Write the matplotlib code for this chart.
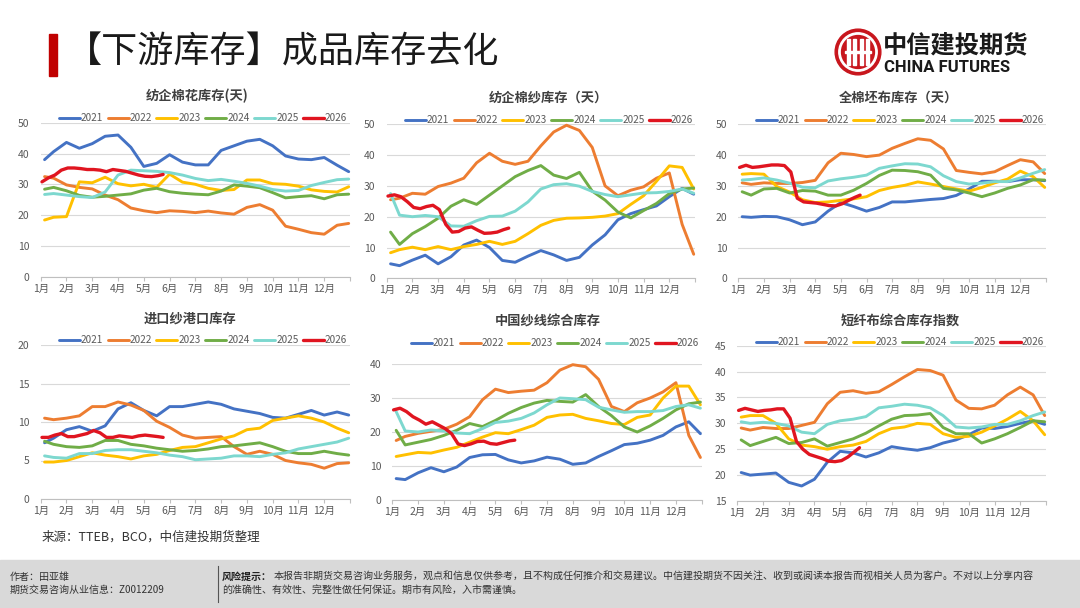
import matplotlib
matplotlib.use("Agg")
import matplotlib.pyplot as plt
from matplotlib.patches import Circle, Rectangle

plt.rcParams['font.family'] = ['Noto Sans CJK SC', 'DejaVu Sans']

W, H = 1080, 608

MONTHS = ['1月', '2月', '3月', '4月', '5月', '6月', '7月', '8月', '9月', '10月', '11月', '12月']
YEARS = ['2021', '2022', '2023', '2024', '2025', '2026']
# sample positions (month axis), half-month steps for full years, quarter-month for 2026
X = [1.15, 1.5, 2.0, 2.5, 3.0, 3.5, 4.0, 4.5, 5.0, 5.5, 6.0, 6.5, 7.0, 7.5,
     8.0, 8.5, 9.0, 9.5, 10.0, 10.5, 11.0, 11.5, 12.0, 12.5, 12.95]
X26 = [1.05, 1.3, 1.55, 1.8, 2.05, 2.3, 2.55, 2.8, 3.05, 3.3, 3.55, 3.8,
       4.05, 4.3, 4.55, 4.8, 5.05, 5.3, 5.55, 5.75]

# 纺企棉花库存(天)
c1_2021 = [38.0, 40.6, 43.6, 41.7, 43.2, 45.6, 46.0, 42.0, 35.8, 36.8, 39.6, 37.2, 36.3, 36.3, 41.0, 42.5, 44.0, 44.6, 42.5, 39.2, 38.2, 38.0, 38.7, 36.2, 34.1]
c1_2022 = [32.5, 32.0, 29.8, 29.0, 28.5, 26.5, 25.0, 22.3, 21.4, 20.8, 21.4, 21.2, 20.8, 21.3, 20.7, 20.3, 22.5, 23.4, 21.6, 16.4, 15.4, 14.3, 13.8, 16.7, 17.3]
c1_2023 = [18.4, 19.3, 19.5, 30.8, 30.5, 32.3, 30.2, 29.5, 30.0, 29.0, 33.3, 30.7, 30.0, 28.7, 28.0, 28.3, 31.4, 31.4, 30.2, 30.0, 29.4, 28.2, 27.7, 27.5, 29.2]
c1_2024 = [28.4, 29.0, 27.9, 26.4, 25.8, 26.1, 26.5, 26.9, 28.1, 28.7, 27.6, 27.1, 26.8, 26.6, 27.8, 29.8, 29.4, 28.9, 27.3, 25.6, 26.0, 26.3, 25.3, 26.6, 26.8]
c1_2025 = [26.7, 27.0, 26.5, 26.0, 25.7, 27.5, 33.0, 34.6, 34.4, 34.2, 33.8, 33.0, 31.9, 31.2, 31.6, 31.0, 30.3, 29.4, 28.3, 27.8, 28.0, 29.6, 30.6, 31.5, 31.7]
c1_2026 = [30.8, 32.1, 33.0, 34.6, 35.3, 35.3, 35.1, 34.8, 34.8, 34.6, 34.1, 34.8, 34.5, 34.2, 33.6, 33.0, 32.6, 32.5, 32.8, 33.2]

# 纺企棉纱库存（天）
y2_2021 = [4.7, 4.1, 5.9, 7.5, 4.7, 7.0, 10.8, 12.4, 10.0, 5.8, 5.2, 7.2, 9.0, 7.6, 5.8, 6.8, 10.8, 14.1, 19.0, 21.0, 22.3, 23.5, 26.5, 29.2, 27.3]
y2_2022 = [25.5, 26.0, 27.6, 27.3, 29.8, 30.9, 32.5, 37.5, 40.6, 38.0, 37.0, 38.0, 43.0, 47.5, 49.7, 48.0, 42.5, 30.0, 26.8, 28.6, 29.7, 32.5, 34.2, 17.5, 7.8]
y2_2023 = [8.3, 9.3, 10.1, 9.3, 10.3, 9.3, 10.3, 11.0, 12.0, 11.0, 12.0, 14.5, 17.2, 18.8, 19.5, 19.6, 19.8, 20.2, 21.0, 24.0, 26.8, 31.5, 36.5, 36.0, 29.0]
y2_2024 = [15.0, 11.0, 14.5, 16.8, 19.5, 23.4, 25.5, 24.0, 27.0, 30.0, 33.0, 35.0, 36.6, 33.5, 32.4, 34.4, 28.3, 25.4, 21.5, 19.6, 22.0, 24.3, 27.5, 29.0, 29.3]
y2_2025 = [27.5, 20.5, 20.0, 20.4, 20.0, 17.0, 16.9, 18.7, 20.1, 20.2, 21.8, 24.8, 29.0, 30.4, 30.7, 29.9, 28.2, 27.2, 26.5, 27.1, 27.7, 27.8, 28.2, 29.0, 27.6]
y2_2026 = [26.7, 27.1, 26.5, 24.9, 23.0, 22.6, 23.3, 23.7, 22.3, 17.5, 15.0, 15.2, 16.3, 16.7, 15.6, 14.6, 14.7, 15.0, 15.8, 16.3]

# 全棉坯布库存（天）
g3_2021 = [20.0, 19.8, 20.1, 20.0, 19.0, 17.4, 18.3, 21.8, 24.6, 23.3, 21.8, 23.0, 24.8, 24.8, 25.2, 25.6, 25.9, 26.9, 29.0, 31.5, 31.5, 31.4, 32.0, 32.0, 31.7]
g3_2022 = [31.0, 30.5, 31.0, 30.8, 30.8, 31.1, 31.8, 37.5, 40.6, 40.2, 39.5, 40.0, 42.2, 43.8, 45.3, 44.8, 42.0, 35.0, 34.4, 33.9, 34.6, 36.6, 38.5, 37.8, 34.0]
g3_2023 = [33.8, 34.0, 33.8, 29.8, 28.0, 25.5, 24.6, 24.8, 25.3, 25.8, 26.5, 28.5, 29.5, 30.2, 31.3, 30.6, 29.8, 29.0, 28.3, 29.5, 31.0, 32.2, 34.8, 33.0, 29.5]
g3_2024 = [28.1, 27.0, 29.0, 29.2, 27.7, 28.5, 28.3, 27.0, 27.0, 28.6, 30.8, 33.4, 35.1, 35.0, 34.6, 33.5, 29.2, 28.7, 27.7, 26.5, 27.7, 29.2, 30.3, 32.0, 31.9]
g3_2025 = [31.9, 32.1, 32.6, 31.9, 30.9, 29.6, 29.4, 31.6, 32.3, 32.8, 33.5, 35.7, 36.5, 37.2, 37.1, 36.2, 33.3, 31.4, 30.6, 30.9, 31.4, 31.4, 32.6, 34.1, 35.3]
g3_2026 = [36.0, 36.7, 36.0, 36.2, 36.5, 36.8, 36.8, 36.6, 34.5, 26.0, 24.8, 24.6, 24.4, 24.0, 23.6, 23.5, 24.2, 25.3, 26.3, 27.0]

# 进口纱港口库存
p4_2021 = [7.3, 7.9, 9.0, 9.4, 8.8, 9.5, 11.7, 12.5, 11.5, 10.8, 12.0, 12.0, 12.3, 12.6, 12.3, 11.7, 11.4, 11.1, 10.6, 10.5, 11.0, 11.5, 10.9, 11.3, 10.9]
p4_2022 = [10.5, 10.3, 10.5, 10.8, 12.0, 12.0, 12.6, 12.2, 11.5, 10.1, 9.3, 8.3, 7.9, 8.0, 8.1, 6.8, 5.8, 6.2, 5.8, 5.0, 4.7, 4.5, 4.0, 4.6, 4.7]
p4_2023 = [4.8, 4.8, 5.0, 5.5, 6.0, 5.7, 5.5, 5.2, 5.6, 5.8, 6.3, 6.7, 6.8, 7.3, 7.8, 8.2, 9.0, 9.2, 10.2, 10.5, 10.8, 10.5, 10.0, 9.2, 8.6]
p4_2024 = [7.5, 7.1, 6.8, 6.7, 6.9, 7.6, 7.6, 7.1, 6.9, 6.6, 6.4, 6.2, 6.3, 6.5, 6.8, 6.9, 7.1, 7.3, 6.8, 6.2, 5.9, 5.9, 6.2, 5.9, 5.7]
p4_2025 = [5.6, 5.4, 5.3, 5.9, 5.9, 6.3, 6.4, 6.4, 6.2, 6.0, 5.7, 5.5, 5.1, 5.2, 5.3, 5.6, 5.6, 5.5, 5.8, 6.0, 6.5, 6.8, 7.1, 7.4, 7.9]
p4_2026 = [8.0, 8.0, 8.3, 8.5, 8.1, 8.1, 8.3, 8.5, 8.9, 8.6, 8.0, 8.0, 8.2, 8.1, 8.0, 8.2, 8.3, 8.2, 8.1, 8.0]

# 中国纱线综合库存
p5_2021 = [6.3, 6.0, 8.0, 9.5, 8.3, 9.7, 12.5, 13.3, 13.4, 11.8, 10.9, 11.5, 12.6, 12.0, 10.5, 10.9, 12.8, 14.5, 16.3, 16.7, 17.6, 19.0, 21.5, 23.0, 19.5]
p5_2022 = [17.5, 18.7, 19.6, 20.2, 20.8, 22.3, 24.5, 29.5, 32.6, 31.6, 32.0, 32.3, 34.5, 38.2, 39.8, 39.2, 35.5, 27.5, 26.0, 28.6, 30.0, 31.8, 34.5, 19.0, 12.5]
p5_2023 = [12.8, 13.3, 14.0, 13.8, 14.7, 15.5, 17.0, 18.5, 19.8, 19.5, 20.7, 22.0, 24.3, 25.0, 25.2, 24.0, 23.3, 22.5, 22.2, 24.3, 25.0, 30.0, 33.5, 33.5, 28.0]
p5_2024 = [20.5, 16.2, 17.0, 17.8, 19.0, 20.5, 22.5, 21.6, 23.4, 25.5, 27.2, 28.5, 29.3, 29.0, 28.8, 31.0, 27.5, 24.8, 21.5, 20.0, 21.8, 24.0, 26.5, 28.3, 28.8]
p5_2025 = [26.0, 20.3, 20.0, 20.6, 20.3, 19.7, 19.5, 21.0, 22.8, 23.2, 24.0, 25.6, 28.0, 30.0, 29.8, 29.5, 27.3, 26.5, 25.8, 26.0, 26.0, 26.3, 27.5, 28.0, 27.0]
p5_2026 = [26.5, 27.0, 26.0, 24.5, 23.5, 22.3, 23.0, 22.0, 21.0, 19.5, 16.5, 16.0, 16.5, 17.2, 17.3, 16.6, 16.4, 16.9, 17.4, 17.6]

# 短纤布综合库存指数
p6_2021 = [20.5, 20.0, 20.2, 20.4, 18.6, 17.9, 19.2, 22.5, 24.6, 24.3, 23.5, 24.3, 25.5, 25.1, 24.8, 25.3, 26.2, 26.8, 27.8, 29.1, 29.0, 29.4, 30.0, 30.5, 29.8]
p6_2022 = [29.1, 28.7, 29.2, 29.0, 29.0, 29.6, 30.2, 33.8, 36.0, 36.3, 35.8, 36.1, 37.5, 39.0, 40.4, 40.2, 39.3, 34.5, 32.9, 32.8, 33.5, 35.5, 37.0, 35.5, 31.5]
p6_2023 = [31.2, 31.5, 31.5, 30.0, 27.0, 25.8, 25.5, 25.0, 25.5, 25.8, 26.5, 28.0, 29.0, 29.3, 30.0, 29.8, 28.0, 27.3, 27.5, 28.3, 29.5, 30.8, 32.3, 30.5, 27.8]
p6_2024 = [26.8, 25.7, 26.5, 27.3, 26.1, 26.3, 27.0, 25.6, 26.3, 27.0, 28.1, 29.5, 30.8, 31.5, 31.6, 31.9, 29.2, 28.0, 28.0, 26.2, 27.0, 28.0, 29.2, 30.5, 30.3]
p6_2025 = [30.3, 30.0, 30.2, 30.0, 29.5, 28.3, 28.0, 29.8, 30.5, 30.8, 31.3, 33.0, 33.3, 33.7, 33.5, 33.0, 31.5, 29.3, 29.1, 29.3, 29.8, 29.8, 30.5, 31.5, 32.2]
p6_2026 = [32.5, 32.9, 32.6, 32.3, 32.5, 32.6, 32.8, 32.8, 31.0, 26.5, 25.0, 24.0, 23.6, 23.2, 22.7, 22.6, 22.8, 23.5, 24.5, 25.3]

COLORS = ['#4472C4', '#ED7D31', '#FFC000', '#70AD47', '#7DD8CF', '#E01520']
GRID = '#D9D9D9'
TXT = '#595959'

# title, series, ylim, yticks, axes box in px (x0, x1, ytop, ybot), title pos, legend pos
panels = [
    ('纺企棉花库存(天)', [c1_2021, c1_2022, c1_2023, c1_2024, c1_2025, c1_2026],
     (0, 50), range(0, 51, 10), (40.7, 350, 122.7, 276.7), (197, 96), (203, 118)),
    ('纺企棉纱库存（天）', [y2_2021, y2_2022, y2_2023, y2_2024, y2_2025, y2_2026],
     (0, 50), range(0, 51, 10), (386.7, 695, 124.3, 278.3), (548, 98), (549, 120)),
    ('全棉坯布库存（天）', [g3_2021, g3_2022, g3_2023, g3_2024, g3_2025, g3_2026],
     (0, 50), range(0, 51, 10), (738.3, 1046, 124.3, 278.3), (898, 98), (900, 120)),
    ('进口纱港口库存', [p4_2021, p4_2022, p4_2023, p4_2024, p4_2025, p4_2026],
     (0, 20), range(0, 21, 5), (40.7, 350, 345, 499), (190, 319), (203, 340)),
    ('中国纱线综合库存', [p5_2021, p5_2022, p5_2023, p5_2024, p5_2025, p5_2026],
     (0, 40), range(0, 41, 10), (392.3, 701.7, 364, 500), (548, 322), (555, 343)),
    ('短纤布综合库存指数', [p6_2021, p6_2022, p6_2023, p6_2024, p6_2025, p6_2026],
     (15, 45), range(15, 46, 5), (737.3, 1046, 345.7, 501), (900, 322), (900, 342)),
]

fig = plt.figure(figsize=(W / 100, H / 100), dpi=100)
fig.patch.set_facecolor('white')


def fx(x):
    return x / W


def fy(y):
    return 1 - y / H


for title, series, ylim, yticks, box, tpos, lpos in panels:
    x0, x1, yt, yb = box
    ax = fig.add_axes([fx(x0), fy(yb), (x1 - x0) / W, (yb - yt) / H])
    handles = []
    for i, vals in enumerate(series):
        xs = X26 if i == 5 else X
        lw = 2.4 if i == 5 else 2.1
        ln, = ax.plot(xs, vals, color=COLORS[i], lw=lw, solid_joinstyle='round',
                      solid_capstyle='round', clip_on=False, zorder=3 + i)
        handles.append(ln)
    ax.set_xlim(1, 13)
    ax.set_ylim(*ylim)
    ax.set_yticks(list(yticks))
    ax.set_xticks(range(1, 14))
    ax.set_xticklabels(MONTHS + [''])
    ax.grid(axis='y', color=GRID, lw=0.8)
    ax.set_axisbelow(True)
    for s in ['top', 'right', 'left']:
        ax.spines[s].set_visible(False)
    ax.spines['bottom'].set_color('#BFBFBF')
    ax.spines['bottom'].set_linewidth(0.8)
    ax.tick_params(axis='y', length=0, labelsize=7.5, labelcolor=TXT, pad=8)
    ax.tick_params(axis='x', length=3, color='#BFBFBF', labelsize=7.5,
                   labelcolor=TXT, pad=2)
    ax.set_facecolor('none')
    fig.text(fx(tpos[0]), fy(tpos[1]), title, ha='center', va='center',
             fontsize=9.5, fontweight='bold', color='#404040')
    fig.legend(handles, YEARS, loc='center', bbox_to_anchor=(fx(lpos[0]), fy(lpos[1])),
               ncol=6, frameon=False, fontsize=7.2, labelcolor=TXT,
               handlelength=2.1, handletextpad=0.1, columnspacing=0.45,
               borderpad=0, borderaxespad=0)

# header
fig.patches.append(Rectangle((fx(49), fy(76)), 8 / W, 42 / H, transform=fig.transFigure,
                             color='#C00000'))
fig.text(fx(66), fy(53), '【下游库存】成品库存去化', ha='left', va='center',
         fontsize=26, color='#1A1A1A')

# logo
lax = fig.add_axes([fx(834), fy(76), 48 / W, 48 / H])
lax.set_xlim(-1.05, 1.05)
lax.set_ylim(-1.05, 1.05)
lax.set_aspect('equal')
lax.axis('off')
lax.add_patch(Circle((0, 0), 1.0, color='#C8161D'))
lax.add_patch(Circle((0, 0), 0.84, color='white'))
lax.add_patch(Circle((0, 0), 0.72, color='#C8161D'))
for xb in [-0.42, -0.14, 0.14, 0.42]:
    lax.add_patch(Rectangle((xb - 0.06, -0.55), 0.12, 1.1, color='white'))
lax.add_patch(Rectangle((-0.55, -0.06), 1.1, 0.12, color='white'))
fig.text(fx(883), fy(45), '中信建投期货', ha='left', va='center', fontsize=17.5,
         fontweight='bold', color='#1A1A1A')
fig.text(fx(884), fy(67), 'CHINA FUTURES', ha='left', va='center', fontsize=12,
         fontweight='bold', color='#1A1A1A', family=['Roboto', 'DejaVu Sans'])

# source
fig.text(fx(42), fy(537), '来源：TTEB，BCO，中信建投期货整理', ha='left', va='center',
         fontsize=9, color='#333333')

# footer
fig.patches.append(Rectangle((0, 0), 1, 48 / H, transform=fig.transFigure,
                             color='#D9D9D9', zorder=0))
fig.lines.append(plt.Line2D([fx(218), fx(218)], [fy(602), fy(566)],
                            transform=fig.transFigure, color='#555555', lw=0.8))
fig.text(fx(10), fy(577), '作者：田亚雄', fontsize=7.2, color='#333333', va='center')
fig.text(fx(10), fy(590), '期货交易咨询从业信息：Z0012209', fontsize=7.2,
         color='#333333', va='center')
fig.text(fx(222), fy(577), '风险提示：', fontsize=7.2, color='#222222', va='center',
         fontweight='bold')
fig.text(fx(274), fy(577),
         '本报告非期货交易咨询业务服务，观点和信息仅供参考，且不构成任何推介和交易建议。'
         '中信建投期货不因关注、收到或阅读本报告而视相关人员为客户。不对以上分享内容',
         fontsize=7.2, color='#333333', va='center')
fig.text(fx(222), fy(590), '的准确性、有效性、完整性做任何保证。期市有风险，入市需谨慎。',
         fontsize=7.2, color='#333333', va='center')

fig.savefig('out.png', dpi=100)
